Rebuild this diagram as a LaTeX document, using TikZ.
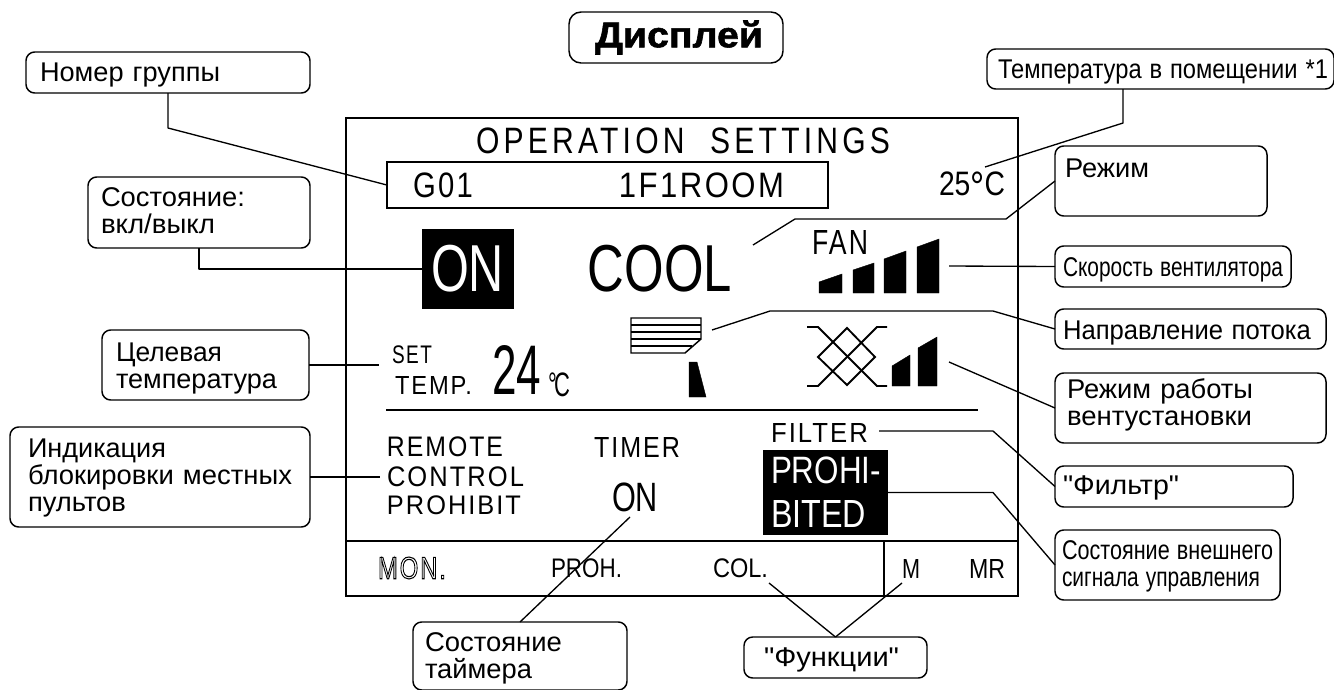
\documentclass[tikz,border=0pt]{standalone}
\usepackage{graphicx}
\usepackage{fontspec}
\setmainfont{Liberation Sans}
\newfontfamily\calloutfont{Liberation Sans}
\newfontfamily\lcdfont{Liberation Sans}
\newfontfamily\lcdsp[LetterSpace=8]{Liberation Sans}
\newfontfamily\lcdwide[LetterSpace=14]{Liberation Sans}
\newfontfamily\heavyfont[FakeBold=1.5]{Liberation Sans Bold}
\newdimen\pxu \pxu=0.75pt
\def\nardown{0}
\newcommand{\nar}[2]{\setbox0\hbox{#2}\pgfmathsetmacro\nsx{#1*0.75/\wd0}\raisebox{-\nardown\pxu}[\height][\depth]{\scalebox{\nsx}[1]{\box0}}}
\newcommand{\lcdnode}[6][]{%
  \pgfmathsetmacro\lcx{(#3+#5)/2}\pgfmathsetmacro\lcy{(#4+#6)/2}%
  \pgfmathsetmacro\lcw{#5-#3}\pgfmathsetmacro\lch{#6-#4}%
  \node[lcdtxt,#1] (#2) at (\lcx,\lcy) {\resizebox*{\lcw\pxu}{\lch\pxu}{\lcdtext}};}
\newcommand{\outl}[1]{\special{pdf:code q 1 Tr 0.35 w}#1\special{pdf:code Q}}
\tikzset{
  nd/.code={\def\nardown{#1}},
  lcdtxt/.style={inner sep=0pt,anchor=center,text=black},
  conn/.style={draw=black,line width=1pt,line join=round},
  solidb/.style={fill=black,draw=black,line width=0.3pt},
  lcdline/.style={draw=black,line width=1.1pt},
  symline/.style={draw=black,line width=1.4pt,line join=miter},
  callout/.code n args={3}{%
    \pgfmathsetlengthmacro\ctw{(#1-2*#3)*0.75}%
    \pgfmathsetlengthmacro\cmw{#1*0.75}%
    \pgfmathsetlengthmacro\cmh{#2*0.75}%
    \pgfmathsetlengthmacro\cin{#3*0.75}%
    \tikzset{draw=black,line width=1.1pt,rectangle,rounded corners=6.5pt,
      minimum width=\cmw,minimum height=\cmh,text width=\ctw,inner xsep=\cin,
      inner ysep=0pt,outer sep=0pt,align=left,anchor=center,
      font=\calloutfont\fontsize{20.3}{20.25}\selectfont}},
  boxrect/.style={draw=black,line width=1.1pt,rectangle,inner sep=0pt,outer sep=0pt},
}
\begin{document}
\begin{tikzpicture}[x=0.75pt,y=-0.75pt]
\useasboundingbox (0,0) rectangle (1334,689);
% callouts
\node[callout={214}{51}{26},rounded corners=9pt] (title) at (676,37.5) {\nar{168}{\heavyfont\fontsize{27}{30}\selectfont Дисплей}};
\node[callout={284}{41}{14},nd=2.5] (numb) at (168,72.5) {\nar{180}{Номер группы}};
\node[callout={347}{40}{11},nd=3] (temp) at (1160.5,69) {\nar{330}{Температура в помещении *1}};
\node[callout={212}{70}{10},nd=0.7] (modebox) at (1161,181) {\nar{84}{Режим}\\\mbox{}};
\node[callout={222}{71}{13},nd=-2] (st) at (199,212.5) {\nar{144}{Состояние:}\\\nar{114}{вкл/выкл}};
\node[callout={236}{41}{8},nd=3] (fanbox) at (1173,266.5) {\nar{220}{Скорость вентилятора}};
\node[callout={271}{40}{8},nd=4] (dirbox) at (1190.5,329) {\nar{248}{Направление потока}};
\node[callout={207}{70}{14},nd=3.5] (tgt) at (205.5,365) {\nar{106}{Целевая}\\\nar{161}{температура}};
\node[callout={271}{70}{12},nd=-3] (ventbox) at (1190.5,408) {\nar{186}{Режим работы}\\\nar{185}{вентустановки}};
\node[callout={300}{100}{18},nd=1] (ind) at (160,477) {\nar{138}{Индикация}\\\nar{264}{блокировки местных}\\\nar{98}{пультов}};
\node[callout={238}{41}{8},nd=1.5] (filterbox) at (1174,486.5) {\nar{116}{"Фильтр"}};
\node[callout={225}{70}{7},nd=1] (extbox) at (1167.5,565) {\nar{211}{Состояние внешнего}\\\nar{198}{сигнала управления}};
\node[callout={214}{68}{12},nd=2] (tim) at (520,656) {\nar{137}{Состояние}\\\nar{107}{таймера}};
\node[callout={183}{41}{20},nd=2.5] (func) at (835.5,657.5) {\nar{135}{"Функции"}};
% display frame
\node[boxrect,minimum width=504pt,minimum height=358.5pt] (frame) at (682,357) {};
\node[boxrect,minimum width=331pt,minimum height=34.5pt] (groupbox) at (607.5,185) {};
\node[fill=black,inner sep=0pt,outer sep=0pt,minimum width=69pt,minimum height=60pt] (onbox) at (468,269) {};
\node[fill=black,inner sep=0pt,outer sep=0pt,minimum width=93.75pt,minimum height=63.75pt] (prohibox) at (825.5,492.5) {};
\coordinate (sepL) at (346,541);
\coordinate (sepR) at (1018,541);
\draw[lcdline] (sepL) -- (sepR);
\coordinate (vT) at (884,541);
\coordinate (vB) at (884,596);
\draw[lcdline] (vT) -- (vB);
\coordinate (divL) at (386,410);
\coordinate (divR) at (978,410);
\draw[draw=black,line width=1pt] (divL) -- (divR);
% display text
\def\lcdtext{\lcdwide OPERATION\hspace{0.85em}SETTINGS}\lcdnode{opset}{476}{128}{890}{154}
\def\lcdtext{\lcdsp G01}\lcdnode{gnum}{413}{173}{473}{198}
\def\lcdtext{\lcdsp 1F1ROOM}\lcdnode{room}{619}{173}{784}{198}
\def\lcdtext{\lcdfont 25\raisebox{-0.18em}[0pt][0pt]{\scalebox{1.25}{°}}C}\lcdnode{tval}{939}{172}{1005}{196}
\def\lcdtext{\lcdfont ON}\lcdnode[text=white]{ontxt}{431}{245}{504}{292}
\def\lcdtext{\lcdfont COOL}\lcdnode{cool}{588}{245}{732}{292}
\def\lcdtext{\lcdsp FAN}\lcdnode{fan}{812}{230}{868}{254}
\def\lcdtext{\lcdsp SET}\lcdnode{setw}{392}{346}{432}{364}
\def\lcdtext{\lcdsp TEMP.}\lcdnode{tempw}{395}{376}{472}{394}
\def\lcdtext{\lcdfont 24}\lcdnode{tset}{492}{345}{541}{394}
\def\lcdtext{\lcdfont °\kern-0.12em C}\lcdnode{tunit}{548}{373}{570}{397}
\def\lcdtext{\lcdsp REMOTE}\lcdnode{rem}{387}{437}{503}{457}
\def\lcdtext{\lcdsp CONTROL}\lcdnode{ctl}{387}{467}{524}{487}
\def\lcdtext{\lcdsp PROHIBIT}\lcdnode{pro}{387}{496}{521}{515}
\def\lcdtext{\lcdsp TIMER}\lcdnode{tmr}{594}{437}{680}{457}
\def\lcdtext{\lcdfont ON}\lcdnode{tmron}{612}{483}{658}{512}
\def\lcdtext{\lcdsp FILTER}\lcdnode{filt}{771}{423}{868}{442}
\def\lcdtext{\lcdfont PROHI-}\lcdnode[text=white]{pro1}{771}{457}{881}{484}
\def\lcdtext{\lcdfont BITED}\lcdnode[text=white]{pro2}{771}{500}{866}{527}
\def\lcdtext{\lcdsp\outl{MON.}}\lcdnode{mon}{378}{557}{446}{579}
\def\lcdtext{\lcdfont PROH.}\lcdnode{proh}{551}{559}{622}{578}
\def\lcdtext{\lcdfont COL.}\lcdnode{col}{713}{559}{768}{578}
\def\lcdtext{\lcdfont M}\lcdnode{mm}{902}{559}{920}{578}
\def\lcdtext{\lcdfont MR}\lcdnode{mr}{969}{559}{1005}{578}
% fan bars
\fill[solidb] (819,293) -- (819,282) -- (842,274) -- (842,293) -- cycle;
\fill[solidb] (853,293) -- (853,270) -- (874,263) -- (874,293) -- cycle;
\fill[solidb] (884,293) -- (884,259) -- (906,251) -- (906,293) -- cycle;
\fill[solidb] (917,293) -- (917,247) -- (939,239) -- (939,293) -- cycle;
% louver
\draw[draw=black,line width=1.1pt,line join=miter] (631,318) -- (701,318) -- (701,339) -- (685,353) -- (631,353) -- cycle;
\draw[draw=black,line width=1.1pt] (631,325) -- (701,325) (631,332) -- (701,332) (631,339) -- (701,339) (631,346) -- (692,346);
\fill[solidb] (689,362) -- (697,362) -- (706,397) -- (689,397) -- cycle;
% ventilation symbol
\draw[symline] (807,327) -- (818,327) -- (877,386) -- (887,386);
\draw[symline] (887,327) -- (877,327) -- (818,386) -- (807,386);
\draw[symline] (847,328) -- (875,357) -- (847,385) -- (818,357) -- cycle;
\fill[solidb] (892,386) -- (892,366) -- (910,355) -- (910,386) -- cycle;
\fill[solidb] (918,386) -- (918,348) -- (937,337) -- (937,386) -- cycle;
% connector bends and free ends
\coordinate (b1) at (168,128);
\coordinate (b2) at (1123,123);
\coordinate (e2) at (985,167);
\coordinate (b3) at (1006,219);
\coordinate (b3a) at (795,219);
\coordinate (e3) at (753,245);
\coordinate (e4) at (949,266);
\coordinate (b5) at (993,311);
\coordinate (b5a) at (770,311);
\coordinate (e5) at (712,330);
\coordinate (e6) at (949,362);
\coordinate (e7) at (379,365);
\coordinate (e8) at (380,477);
\coordinate (b9) at (993,431);
\coordinate (e9) at (879,431);
\coordinate (b10) at (993,492.5);
\coordinate (e11) at (630,517);
\coordinate (e12) at (769,583);
\coordinate (e13) at (902,583);
% connectors
\draw[conn] (numb.south) -- (b1) -- (groupbox.west);
\draw[conn] (temp.south -| b2) -- (b2) -- (e2);
\draw[conn] (modebox.west) -- (b3) -- (b3a) -- (e3);
\draw[conn] (st.south) |- (onbox.west);
\draw[conn] (fanbox.west) -- (e4);
\draw[conn] (dirbox.west) -- (b5) -- (b5a) -- (e5);
\draw[conn] (ventbox.west) -- (e6);
\draw[conn] (tgt.east) -- (e7);
\draw[conn] (ind.east) -- (e8);
\draw[conn] (filterbox.west) -- (b9) -- (e9);
\draw[conn] (extbox.west) -- (b10) -- (prohibox.east);
\draw[conn] (tim.north) -- (e11);
\draw[conn] (func.north) -- (e12);
\draw[conn] (func.north) -- (e13);
\end{tikzpicture}
\end{document}
